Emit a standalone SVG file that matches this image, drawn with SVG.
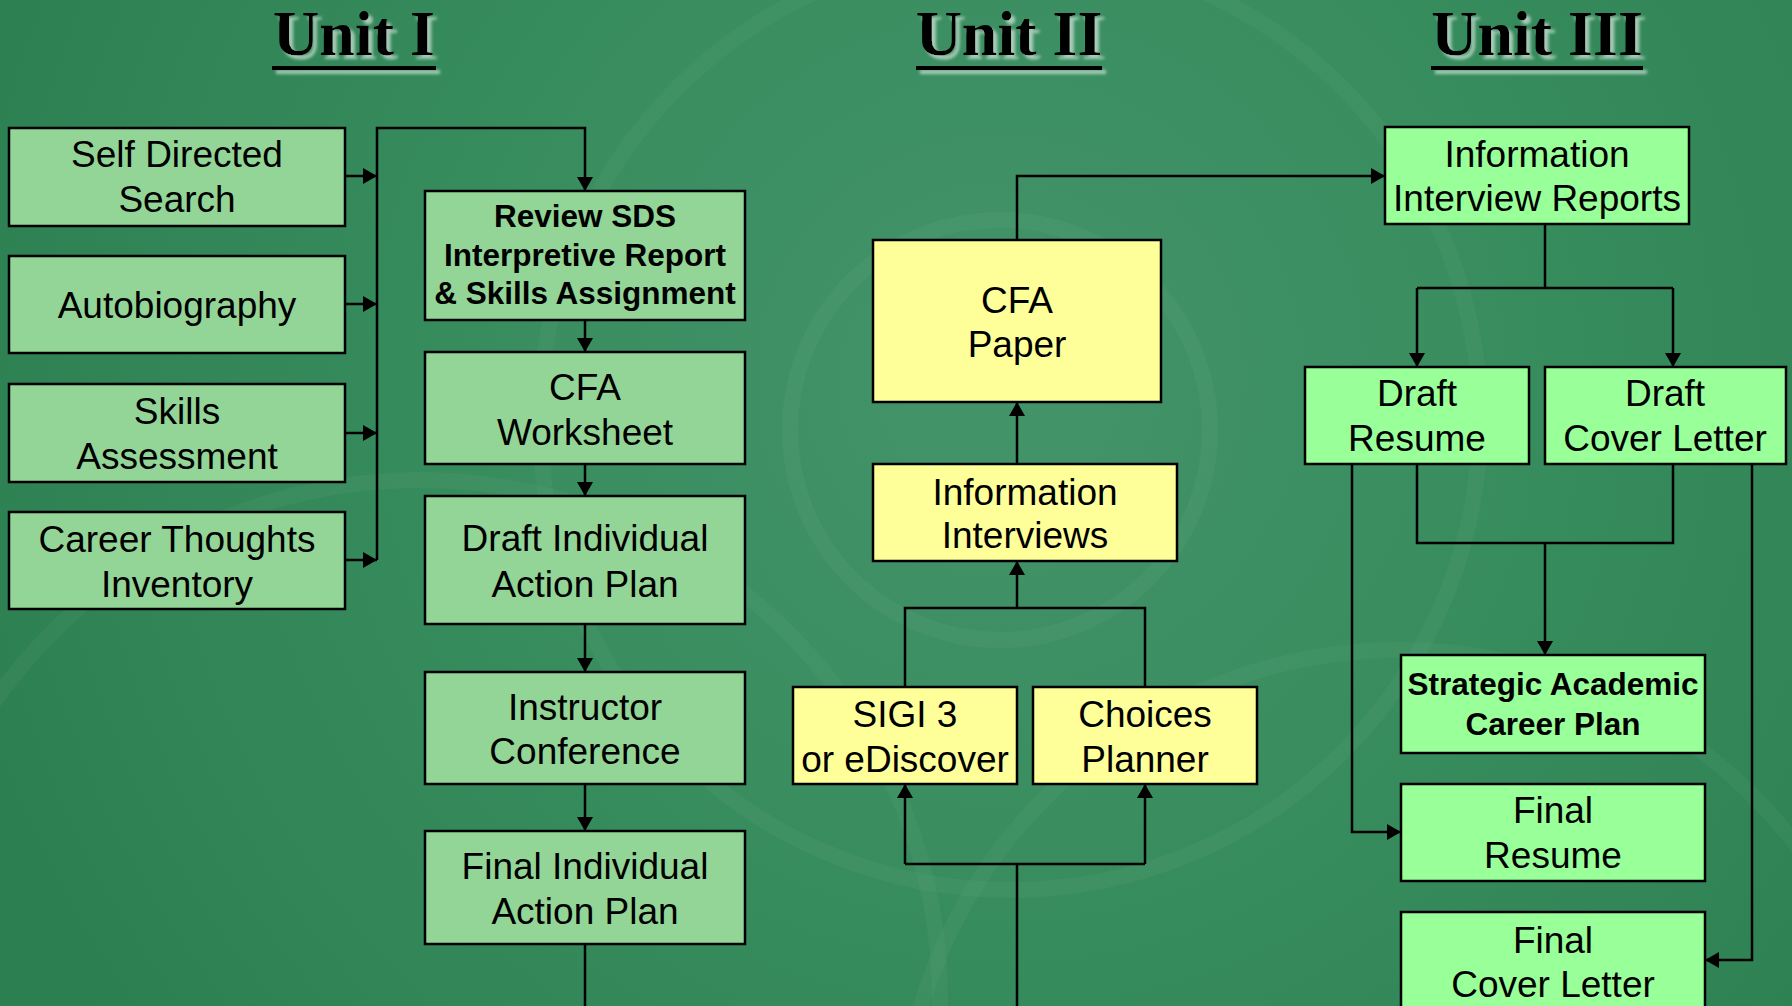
<svg xmlns="http://www.w3.org/2000/svg" width="1792" height="1006" viewBox="0 0 1792 1006">
<defs>
<radialGradient id="bg" cx="1000" cy="380" r="1100" gradientUnits="userSpaceOnUse">
<stop offset="0" stop-color="#44946a"/>
<stop offset="0.5" stop-color="#378c5d"/>
<stop offset="1" stop-color="#2c7f51"/>
</radialGradient>
<filter id="sh" x="-10%" y="-20%" width="130%" height="150%">
<feDropShadow dx="4" dy="4" stdDeviation="1.5" flood-color="#ffffff" flood-opacity="0.55"/>
</filter>
<marker id="ah" viewBox="0 0 14 16" refX="14" refY="8" markerWidth="14" markerHeight="16" markerUnits="userSpaceOnUse" orient="auto">
<path d="M0,0 L14,8 L0,16 z" fill="#000"/>
</marker>
<style>
.title{font-family:"Liberation Serif","Times New Roman",serif;font-weight:bold;font-size:64px;fill:#000;text-anchor:middle}
.b1{fill:#93d597;stroke:#000;stroke-width:2.5}
.b2{fill:#ffff99;stroke:#000;stroke-width:2.5}
.b3{fill:#99ff99;stroke:#000;stroke-width:2.5}
.t{font-family:"Liberation Sans",Arial,sans-serif;font-size:37px;fill:#000;text-anchor:middle}
.tb{font-family:"Liberation Sans",Arial,sans-serif;font-size:31.5px;font-weight:bold;fill:#000;text-anchor:middle}
.c{fill:none;stroke:#000;stroke-width:2.5}
.ca{fill:none;stroke:#000;stroke-width:2.5;marker-end:url(#ah)}
</style>
</defs>
<rect width="1792" height="1006" fill="url(#bg)"/>
<g fill="none" stroke="#ffffff" stroke-opacity="0.035" stroke-width="16">
<circle cx="1010" cy="420" r="470"/>
<circle cx="1000" cy="430" r="210"/>
<circle cx="420" cy="1000" r="520"/>
<circle cx="1400" cy="1150" r="500"/>
</g>

<g id="titles" filter="url(#sh)">
<text class="title" x="354" y="55">Unit I</text>
<rect x="272" y="66" width="164" height="4" fill="#000"/>
<text class="title" x="1009" y="55">Unit II</text>
<rect x="916" y="66" width="186" height="4" fill="#000"/>
<text class="title" x="1537" y="55">Unit III</text>
<rect x="1431" y="66" width="212" height="4" fill="#000"/>
</g>

<g id="connectors">
<path class="ca" d="M345,176 H377"/>
<path class="ca" d="M345,304 H377"/>
<path class="ca" d="M345,433 H377"/>
<path class="ca" d="M345,560 H377"/>
<path class="ca" d="M377,560 V128 H585 V191"/>
<path class="ca" d="M585,320 V352"/>
<path class="ca" d="M585,464 V496"/>
<path class="ca" d="M585,624 V672"/>
<path class="ca" d="M585,784 V831"/>
<path class="c" d="M585,944 V1010"/>
<path class="c" d="M1017,1010 V864 M905,864 H1145"/>
<path class="ca" d="M905,864 V784"/>
<path class="ca" d="M1145,864 V784"/>
<path class="c" d="M905,687 V608 H1145 V687"/>
<path class="ca" d="M1017,608 V561"/>
<path class="ca" d="M1017,464 V402"/>
<path class="ca" d="M1017,240 V176 H1385"/>
<path class="c" d="M1545,224 V288 M1417,288 H1673"/>
<path class="ca" d="M1417,288 V367"/>
<path class="ca" d="M1673,288 V367"/>
<path class="c" d="M1417,464 V543 H1673 V464"/>
<path class="ca" d="M1545,543 V655"/>
<path class="ca" d="M1352,464 V832 H1401"/>
<path class="ca" d="M1752,464 V960 H1705"/>
</g>

<g id="self-directed-search">
<rect class="b1" x="9" y="128" width="336" height="98"/>
<text class="t" x="177" y="167">Self Directed</text>
<text class="t" x="177" y="212">Search</text>
</g>
<g id="autobiography">
<rect class="b1" x="9" y="256" width="336" height="97"/>
<text class="t" x="177" y="318">Autobiography</text>
</g>
<g id="skills-assessment">
<rect class="b1" x="9" y="384" width="336" height="98"/>
<text class="t" x="177" y="424">Skills</text>
<text class="t" x="177" y="469">Assessment</text>
</g>
<g id="career-thoughts-inventory">
<rect class="b1" x="9" y="512" width="336" height="97"/>
<text class="t" x="177" y="552">Career Thoughts</text>
<text class="t" x="177" y="597">Inventory</text>
</g>
<g id="review-sds">
<rect class="b1" x="425" y="191" width="320" height="129"/>
<text class="tb" x="585" y="227">Review SDS</text>
<text class="tb" x="585" y="266">Interpretive Report</text>
<text class="tb" x="585" y="304">&amp; Skills Assignment</text>
</g>
<g id="cfa-worksheet">
<rect class="b1" x="425" y="352" width="320" height="112"/>
<text class="t" x="585" y="400">CFA</text>
<text class="t" x="585" y="445">Worksheet</text>
</g>
<g id="draft-iap">
<rect class="b1" x="425" y="496" width="320" height="128"/>
<text class="t" x="585" y="551">Draft Individual</text>
<text class="t" x="585" y="597">Action Plan</text>
</g>
<g id="instructor-conference">
<rect class="b1" x="425" y="672" width="320" height="112"/>
<text class="t" x="585" y="720">Instructor</text>
<text class="t" x="585" y="764">Conference</text>
</g>
<g id="final-iap">
<rect class="b1" x="425" y="831" width="320" height="113"/>
<text class="t" x="585" y="879">Final Individual</text>
<text class="t" x="585" y="924">Action Plan</text>
</g>

<g id="cfa-paper">
<rect class="b2" x="873" y="240" width="288" height="162"/>
<text class="t" x="1017" y="313">CFA</text>
<text class="t" x="1017" y="357">Paper</text>
</g>
<g id="information-interviews">
<rect class="b2" x="873" y="464" width="304" height="97"/>
<text class="t" x="1025" y="505">Information</text>
<text class="t" x="1025" y="548">Interviews</text>
</g>
<g id="sigi3">
<rect class="b2" x="793" y="687" width="224" height="97"/>
<text class="t" x="905" y="727">SIGI 3</text>
<text class="t" x="905" y="772">or eDiscover</text>
</g>
<g id="choices-planner">
<rect class="b2" x="1033" y="687" width="224" height="97"/>
<text class="t" x="1145" y="727">Choices</text>
<text class="t" x="1145" y="772">Planner</text>
</g>

<g id="info-interview-reports">
<rect class="b3" x="1385" y="127" width="304" height="97"/>
<text class="t" x="1537" y="167">Information</text>
<text class="t" x="1537" y="211">Interview Reports</text>
</g>
<g id="draft-resume">
<rect class="b3" x="1305" y="367" width="224" height="97"/>
<text class="t" x="1417" y="406">Draft</text>
<text class="t" x="1417" y="451">Resume</text>
</g>
<g id="draft-cover-letter">
<rect class="b3" x="1545" y="367" width="241" height="97"/>
<text class="t" x="1665" y="406">Draft</text>
<text class="t" x="1665" y="451">Cover Letter</text>
</g>
<g id="strategic-academic-career-plan">
<rect class="b3" x="1401" y="655" width="304" height="98"/>
<text class="tb" x="1553" y="695">Strategic Academic</text>
<text class="tb" x="1553" y="735">Career Plan</text>
</g>
<g id="final-resume">
<rect class="b3" x="1401" y="784" width="304" height="97"/>
<text class="t" x="1553" y="823">Final</text>
<text class="t" x="1553" y="868">Resume</text>
</g>
<g id="final-cover-letter">
<rect class="b3" x="1401" y="912" width="304" height="110"/>
<text class="t" x="1553" y="953">Final</text>
<text class="t" x="1553" y="997">Cover Letter</text>
</g>
</svg>
